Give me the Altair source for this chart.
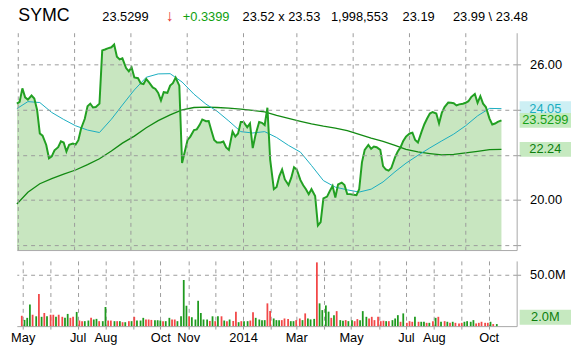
import altair as alt
import pandas as pd

FONT = "Liberation Sans"

# ---- data ----
price = [
    24.27, 24.35, 24.95, 24.55, 24.45, 24.63, 24.50, 24.00, 22.95, 22.85,
    22.44, 21.85, 21.93, 22.20, 22.34, 22.60, 22.55, 22.15, 22.45, 22.50,
    22.46, 22.65, 23.17, 23.60, 24.15, 24.27, 24.10, 24.12, 24.27, 26.63,
    26.67, 26.72, 26.77, 26.89, 26.35, 26.23, 26.28, 25.85, 25.70, 25.88,
    25.43, 25.40, 25.17, 25.14, 25.36, 25.21, 24.99, 24.92, 24.75, 24.41,
    24.78, 24.75, 25.07, 25.18, 25.43, 25.07, 21.64, 22.15, 22.66, 22.81,
    23.10, 23.13, 23.32, 23.57, 23.49, 23.50, 23.07, 22.66, 22.55, 22.55,
    22.59, 22.33, 22.22, 23.03, 22.81, 22.95, 23.46, 23.46, 23.22, 23.39,
    22.30, 22.88, 23.46, 23.42, 23.32, 24.09, 21.79, 20.48, 20.58, 21.06,
    21.35, 20.91, 20.66, 20.99, 21.45, 21.35, 20.88, 20.65, 20.48, 20.26,
    20.48, 20.18, 18.87, 19.02, 20.07, 20.15, 20.40, 20.62, 20.11, 20.69,
    20.77, 20.66, 20.26, 20.26, 20.23, 20.21, 20.48, 21.67, 22.22, 22.44,
    22.27, 22.37, 22.34, 22.22, 21.50, 21.35, 21.30, 21.42, 21.89, 22.15,
    22.33, 22.62, 22.81, 22.95, 22.98, 22.66, 22.55, 23.03, 23.36, 23.61,
    23.83, 23.90, 23.83, 23.39, 23.86, 24.12, 24.32, 24.31, 24.29, 24.19,
    24.24, 24.27, 24.31, 24.38, 24.56, 24.70, 24.31, 24.60, 24.27, 24.12,
    23.61, 23.35, 23.39, 23.46, 23.53,
]

volume_m = [
    10, 6, 8, 21, 11, 9.5, 31, 9, 12.7, 9.5,
    11, 11, 9, 11, 9, 8, 11.8, 8, 9, 13.7,
    5.4, 4.8, 4.8, 5.4, 8, 6.4, 7, 4.8, 4.8, 18.5,
    5.4, 5.4, 4.8, 4.8, 4.8, 3.8, 3.8, 4.8, 4.8, 9,
    5.4, 5.4, 8, 6.4, 6.4, 6, 5.7, 5.7, 5.4, 4.8,
    4.8, 8, 6.4, 6.4, 4.8, 9.5, 44.6, 19.7, 9.5, 8.6,
    6.4, 24.5, 12.7, 6.4, 6.4, 5, 9.5, 4.8, 9.5, 9.5,
    5.4, 4.8, 6.4, 5, 14, 3.8, 4.8, 4.8, 4.8, 5.4,
    13.4, 8, 6.4, 5.8, 5.8, 22, 14.5, 7.4, 5.8, 5.8,
    5.8, 7.4, 6.8, 4.8, 4.8, 5.8, 7.4, 5.8, 12.3, 7.4,
    6.5, 7, 61.6, 22, 15.5, 20, 14, 8, 10.6, 14.5,
    5.8, 5.2, 5.8, 4.8, 5.8, 4.8, 6.8, 5.8, 14.5, 9,
    7.4, 9, 5.8, 9, 4.8, 5.2, 4.8, 4.8, 5.8, 7.4,
    10.6, 4.2, 12.3, 3.2, 4.8, 4.2, 9, 4.2, 4.2, 4.2,
    3.2, 3.2, 4.8, 8, 9, 4.2, 4.8, 4.2, 3.2, 4.2,
    3.2, 2.6, 3.2, 4.2, 4.8, 4.2, 5.8, 2.6, 3.2, 4.2,
    3.2, 3.2, 4.2, 2, 2,
]

direction = list(
    "duuudududu" "ddudduuddu" "dduuduuduu" "ddudududud" "uuuddduuud"
    "uudduuuudu" "uuuuududud" "ududduduud" "duuuudduuu" "ddduuddudu"
    "uuduuuudud" "uuduudduuu" "dddddduduu" "ududdduduu" "dududududu"
    "ddduuuuddd" "ddudu"
)

ma50 = [24.05, 24.36, 24.32, 23.88, 23.57, 23.29, 23.10, 22.99, 23.58, 24.21,
        24.88, 25.44, 25.59, 25.60, 25.23, 24.69, 24.25, 23.94, 23.50, 23.03,
        22.97, 23.03, 22.77, 22.42, 22.12, 21.53, 20.86, 20.57, 20.45, 20.35,
        20.48, 20.80, 21.25, 21.63, 21.98, 22.31, 22.62, 22.92, 23.29, 23.73,
        24.06, 24.05]
ma200 = [19.82, 20.34, 20.72, 20.95, 21.15, 21.33, 21.57, 21.83, 22.17, 22.52,
         22.83, 23.20, 23.52, 23.77, 23.99, 24.10, 24.12, 24.10, 24.07, 24.03,
         23.97, 23.91, 23.75, 23.62, 23.49, 23.37, 23.27, 23.19, 23.07, 22.91,
         22.74, 22.60, 22.42, 22.24, 22.13, 22.06, 22.00, 22.02, 22.09, 22.16,
         22.23, 22.24]

header_texts = ["SYMC", "23.5299", "\u2193", "+0.3399", "23.52 x 23.53",
                "1,998,553", "23.19", "23.99 \\ 23.48"]
price_tags = ["24.05", "23.5299", "22.24"]
price_tag_values = [24.05, 23.5299, 22.24]
volume_tag = "2.0M"
Y_MIN, Y_MAX = 17.78, 27.415

# ---- tables ----
dates = pd.date_range("2013-04-30", "2014-10-10", periods=len(price)).normalize()
df = pd.DataFrame({"date": dates, "price": price, "vol": volume_m, "dir": direction})
ma = pd.DataFrame({"date": dates[::4], "ma50": ma50, "ma200": ma200})

# ---- styles ----
GRID = "#9a9a9a"
DOMAIN = "#a8a8a8"
FILL = "#c8e6c0"
LINE = "#22a022"
CYAN = "#19adc0"
DKGREEN = "#128a12"
UP = "#1f9a1f"
DOWN = "#f24848"

W, H_PRICE, H_VOL = 506, 220, 66

x_scale = alt.Scale(domain=[alt.DateTime(year=2013, month=4, date=29, hours=22),
                            alt.DateTime(year=2014, month=10, date=26, hours=14)])
month_ticks = [alt.DateTime(year=2013 + (m - 1) // 12, month=(m - 1) % 12 + 1, date=1)
               for m in range(5, 5 + 18)]
y_scale = alt.Scale(domain=[Y_MIN, Y_MAX], zero=False, nice=False)

x_price = alt.X("date:T", scale=x_scale, title=None,
                axis=alt.Axis(values=month_ticks, grid=True, gridDash=[4, 4], gridColor=GRID,
                              labels=False, ticks=False, domain=True, domainColor=DOMAIN,
                              zindex=1))
x_plain = alt.X("date:T", scale=x_scale, title=None)

y_axis = alt.Axis(orient="right", values=[18, 20, 22, 24, 26],
                  labelExpr="datum.value == 20 || datum.value == 26 ? format(datum.value, '.2f') : ''",
                  grid=True, gridDash=[4, 4], gridColor=GRID, tickColor=GRID, tickSize=5,
                  tickDash=[4, 4], domainColor=DOMAIN, labelPadding=8, labelFontSize=13,
                  labelColor="black", zindex=1, title=None)

area = alt.Chart(df).mark_area(color=FILL, clip=True).encode(
    x=x_price,
    y=alt.Y("price:Q", scale=y_scale, axis=y_axis, title=None),
    y2=alt.datum(Y_MIN),
)
pline = alt.Chart(df).mark_line(color=LINE, strokeWidth=2).encode(
    x=x_plain, y=alt.Y("price:Q", title=None))
l50 = alt.Chart(ma).mark_line(color=CYAN, strokeWidth=1).encode(
    x=x_plain, y=alt.Y("ma50:Q", title=None))
l200 = alt.Chart(ma).mark_line(color=DKGREEN, strokeWidth=1.3).encode(
    x=x_plain, y=alt.Y("ma200:Q", title=None))

tag_styles = [("#cdeff4", CYAN), ("#c4ebbf", "#16a016"), ("#c6e9c0", "#0d7f0d")]
tag_layers = []
for t, v, (bg, fg) in zip(price_tags, price_tag_values, tag_styles):
    d = pd.DataFrame({"price": [v], "t": [t]})
    tag_layers.append(alt.Chart(d).mark_tick(orient="horizontal", thickness=15, size=52,
                                             color=bg, opacity=1).encode(
        x=alt.value(W + 29), y=alt.Y("price:Q", title=None)))
    tag_layers.append(alt.Chart(d).mark_text(align="center", baseline="middle", fontSize=13,
                                             color=fg, font=FONT).encode(
        x=alt.value(W + 29), y=alt.Y("price:Q", title=None), text="t:N"))

price_chart = alt.layer(area, l200, l50, pline, *tag_layers).properties(width=W, height=H_PRICE)

# ---- volume ----
vol_x_axis = alt.Axis(values=month_ticks, grid=True, gridDash=[4, 4], gridColor=GRID,
                      tickSize=5, tickColor=GRID, tickDash=[3, 2], domainColor=DOMAIN,
                      labelExpr="month(datum.value) == 0 ? timeFormat(datum.value, '%Y') : "
                                "(indexof([2, 4, 6, 7, 9, 10], month(datum.value)) >= 0 ? "
                                "timeFormat(datum.value, '%b') : '')",
                      labelFontSize=13, labelColor="black", labelPadding=1,
                      labelFlush=5, labelFlushOffset=-4, labelOverlap=False, title=None)
vol_y_axis = alt.Axis(orient="right", values=[50], labelExpr="'50.0M'", grid=True,
                      gridDash=[4, 4], gridColor=GRID, tickSize=5, tickColor=GRID,
                      tickDash=[4, 4], domainColor=DOMAIN, labelPadding=8, labelFontSize=13,
                      labelColor="black", title=None)

bars = alt.Chart(df).mark_bar(size=1.8).encode(
    x=alt.X("date:T", scale=x_scale, axis=vol_x_axis, title=None),
    y=alt.Y("vol:Q", scale=alt.Scale(domain=[0, 63], nice=False), axis=vol_y_axis, title=None),
    color=alt.Color("dir:N", scale=alt.Scale(domain=["u", "d"], range=[UP, DOWN]), legend=None),
)
vt = pd.DataFrame({"t": [volume_tag]})
vbox = alt.Chart(vt).mark_tick(orient="horizontal", thickness=15, size=52, color="#c6e9c0",
                               opacity=1).encode(x=alt.value(W + 29), y=alt.value(H_VOL - 9))
vtext = alt.Chart(vt).mark_text(align="center", baseline="middle", fontSize=13,
                                color="#0d7f0d", font=FONT).encode(
    x=alt.value(W + 29), y=alt.value(H_VOL - 9), text="t:N")
vol_chart = alt.layer(bars, vbox, vtext).properties(width=W, height=H_VOL)

# ---- header ----
header_x = [11.6, 96.5, 161, 178, 238.5, 328, 400.5, 451.5]
header_size = [18, 13, 16, 13, 13, 13, 13, 13]
header_color = ["black", "black", "#e83030", "#10a010", "black", "black", "black", "black"]
h_layers = []
for t, hx, hs, hc in zip(header_texts, header_x, header_size, header_color):
    h_layers.append(alt.Chart(pd.DataFrame({"t": [t]})).mark_text(
        align="left", baseline="alphabetic", fontSize=hs, color=hc, font=FONT).encode(
        text="t:N", x=alt.value(hx - 10), y=alt.value(19.5)))
header = alt.layer(*h_layers).properties(width=W, height=23)

chart = alt.vconcat(
    header,
    alt.vconcat(price_chart, vol_chart, spacing=11),
    spacing=7,
).properties(
    padding={"left": 10, "top": 0, "right": 0, "bottom": 0}
).configure(font=FONT).configure_view(stroke=None)

chart.save("out.html", embed_options={"renderer": "svg", "actions": False})
